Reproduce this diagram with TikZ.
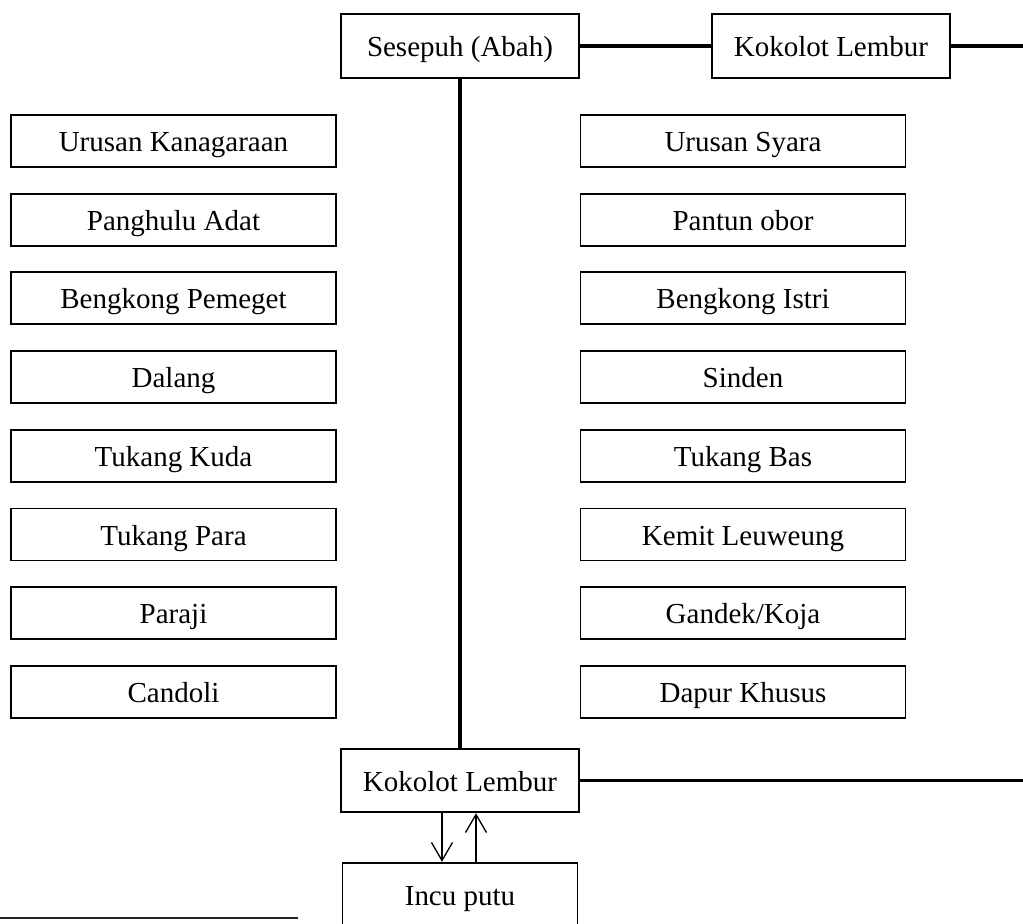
\documentclass[tikz,border=0pt]{standalone}
\usepackage{xcolor}
\usepackage{fontspec}
\setmainfont{Liberation Serif}
\usepackage{tikz}
\usetikzlibrary{arrows.meta,positioning}

\begin{document}
\begin{tikzpicture}[node distance = 1.574cm,auto,inner sep=0pt,
  kotak/.style={draw=black,line width=1.1pt,rectangle,minimum width=6.5cm,minimum height=1.04cm,text height=13.5pt,text depth=1.5pt,font=\fontsize{16.5}{19}\selectfont},
  kepala/.style={kotak,minimum width=4.76cm,minimum height=1.27cm},
  garis/.style={line width=2pt},
  panah/.style={line width=0.75pt,-{Straight Barb[length=0.36cm,width=0.42cm,line width=0.75pt]}}]
\useasboundingbox (0,0) rectangle (20.46,-18.46);

% atas
\node[kepala] (S) at (9.2,-0.92) {Sesepuh (Abah)};
\node[kepala,node distance = 7.42cm] (K) [right of = S] {Kokolot Lembur};
\coordinate (KE) at (20.46,-0.92);

% kolom kiri
\node[kotak] (L1) at (3.47,-2.82) {Urusan Kanagaraan};
\node[kotak] (L2) [below of = L1] {Panghulu Adat};
\node[kotak] (L3) [below of = L2] {Bengkong Pemeget};
\node[kotak] (L4) [below of = L3] {Dalang};
\node[kotak] (L5) [below of = L4] {Tukang Kuda};
\node[kotak] (L6) [below of = L5] {Tukang Para};
\node[kotak] (L7) [below of = L6] {Paraji};
\node[kotak] (L8) [below of = L7] {Candoli};

% kolom kanan
\node[kotak,node distance = 11.39cm] (R1) [right of = L1] {Urusan Syara};
\node[kotak] (R2) [below of = R1] {Pantun obor};
\node[kotak] (R3) [below of = R2] {Bengkong Istri};
\node[kotak] (R4) [below of = R3] {Sinden};
\node[kotak] (R5) [below of = R4] {Tukang Bas};
\node[kotak] (R6) [below of = R5] {Kemit Leuweung};
\node[kotak] (R7) [below of = R6] {Gandek/Koja};
\node[kotak] (R8) [below of = R7] {Dapur Khusus};

% bawah
\node[kepala] (B) at (9.2,-15.61) {Kokolot Lembur};
\node[kepala,minimum width=4.7cm,node distance = 2.28cm] (I) [below of = B] {Incu putu};
\coordinate (BE) at (20.46,-15.61);

\path (S) edge [garis] (K);
\path (K) edge [garis] (KE);
\path (S) edge [garis] (B);
\path (B) edge [garis] (BE);
\draw[panah] ([xshift=-0.36cm]B.south) -- ([xshift=-0.36cm]I.north);
\draw[panah] ([xshift=0.32cm]I.north) -- ([xshift=0.32cm]B.south);

% garis catatan kaki
\coordinate (F1) at (0,-18.36);
\coordinate (F2) at (5.96,-18.36);
\draw[black!85,line width=1.1pt] (F1) -- (F2);

\end{tikzpicture}
\end{document}
